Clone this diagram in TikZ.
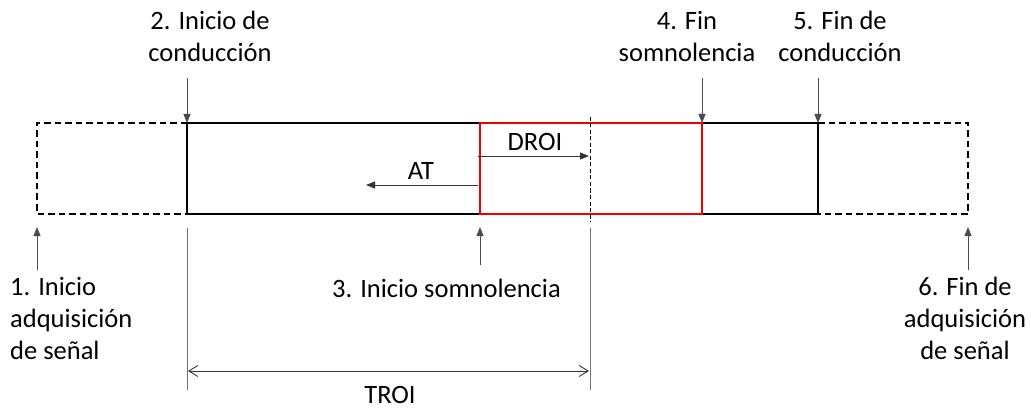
\documentclass[tikz,border=0pt]{standalone}
\usepackage{fontspec}
\setmainfont{Carlito}
\usetikzlibrary{arrows.meta}
\begin{document}
\begin{tikzpicture}[x=1pt,y=-1pt,
  lbl/.style={inner sep=0pt, font=\fontsize{26.5}{32}\selectfont, text=black},
  frame/.style={line width=1.4pt, black},
  dashframe/.style={line width=1.4pt, black, dash pattern=on 6.5pt off 4pt},
  sleepy/.style={line width=1.4pt, red!95!black},
  pointer/.style={line width=0.9pt, black!70, -{Triangle[length=9pt,width=7pt]}},
  span/.style={line width=0.9pt, black!80, {Straight Barb[length=9pt,width=11pt]}-{Straight Barb[length=9pt,width=11pt]}},
  tick/.style={line width=0.9pt, black!55}]
\useasboundingbox (0,0) rectangle (1031,409);

% corners of the recording window
\coordinate (acqTL) at (37,123);  \coordinate (acqBL) at (37,214);
\coordinate (acqTR) at (968,123); \coordinate (acqBR) at (968,214);
\coordinate (drvTL) at (187,123); \coordinate (drvBL) at (187,214);
\coordinate (drvTR) at (818,123); \coordinate (drvBR) at (818,214);
\coordinate (slpTL) at (480,123); \coordinate (slpBL) at (480,214);
\coordinate (slpTR) at (702,123); \coordinate (slpBR) at (702,214);

% signal acquisition (dashed), driving (solid), drowsiness (red)
\draw[dashframe] (drvTL) -- (acqTL) -- (acqBL) -- (drvBL);
\draw[dashframe] (drvTR) -- (acqTR) -- (acqBR) -- (drvBR);
\draw[frame] (drvTL) rectangle (drvBR);
\draw[sleepy] (slpTL) rectangle (slpBR);

% end of the region of interest
\coordinate (roiTop) at (590,117);
\coordinate (roiMid) at (590,222);
\draw[line width=0.9pt, black, dash pattern=on 4pt off 2.5pt] (roiTop) -- (roiMid);

% labels above
\node[lbl, anchor=north, align=center] (l2) at (210,11) {2. Inicio de\\conducción};
\node[lbl, anchor=north, align=center] (l4) at (687,11) {4. Fin\\somnolencia};
\node[lbl, anchor=north, align=center] (l5) at (840,11) {5. Fin de\\conducción};

% labels below
\node[lbl, anchor=north west, align=left] (l1) at (10,277) {1. Inicio\\adquisición\\de señal};
\node[lbl, anchor=base] (l3) at (446.5,297) {3. Inicio somnolencia};
\node[lbl, anchor=north, align=center] (l6) at (965,277) {6. Fin de\\adquisición\\de señal};

% event pointers
\coordinate (p2) at (187,78);  \draw[pointer] (p2) -- (drvTL);
\coordinate (p4) at (702,78);  \draw[pointer] (p4) -- (slpTR);
\coordinate (p5) at (818,78);  \draw[pointer] (p5) -- (drvTR);
\coordinate (p1) at (37,270);  \coordinate (q1) at (37,227);  \draw[pointer] (p1) -- (q1);
\coordinate (p3) at (480,265); \coordinate (q3) at (480,227); \draw[pointer] (p3) -- (q3);
\coordinate (p6) at (968,270); \coordinate (q6) at (968,227); \draw[pointer] (p6) -- (q6);

% DROI and AT
\coordinate (droiA) at (478,156); \coordinate (droiB) at (589,156);
\draw[line width=0.9pt, black!80, -{Triangle[length=9pt,width=7pt]}] (droiA) -- (droiB);
\node[lbl, anchor=base] (droi) at (535,150) {DROI};
\coordinate (atA) at (478,185); \coordinate (atB) at (366,185);
\draw[line width=0.9pt, black!80, -{Triangle[length=9pt,width=7pt]}] (atA) -- (atB);
\node[lbl, anchor=base] (at) at (421,179) {AT};

% TROI span
\coordinate (t1a) at (187,228); \coordinate (t1b) at (187,390);
\coordinate (t2a) at (590,228); \coordinate (t2b) at (590,390);
\draw[tick] (t1a) -- (t1b);
\draw[tick] (t2a) -- (t2b);
\coordinate (sA) at (188,371); \coordinate (sB) at (589,371);
\draw[span] (sA) -- (sB);
\node[lbl, anchor=base] (troi) at (390,403) {TROI};
\end{tikzpicture}
\end{document}
